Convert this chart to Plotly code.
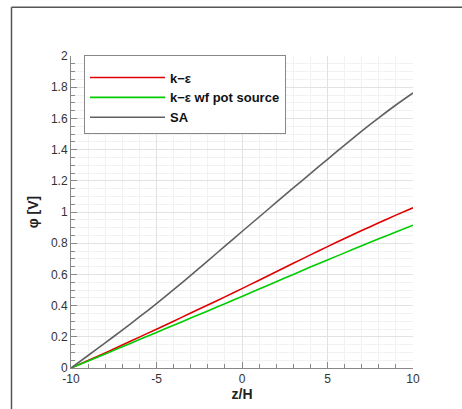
import plotly.graph_objects as go

z = [-10, -9, -8, -7, -6, -5, -4, -3, -2, -1, 0, 1, 2, 3, 4, 5, 6, 7, 8, 9, 10]
phi_ke = [0, 0.048, 0.097, 0.147, 0.198, 0.249, 0.3, 0.352, 0.404, 0.456, 0.509, 0.563, 0.617, 0.671, 0.725, 0.778, 0.83, 0.881, 0.931, 0.98, 1.027]
phi_ke_wf = [0, 0.045, 0.09, 0.136, 0.182, 0.228, 0.274, 0.32, 0.366, 0.412, 0.459, 0.506, 0.553, 0.6, 0.647, 0.693, 0.738, 0.783, 0.828, 0.872, 0.915]
phi_sa = [0, 0.08, 0.161, 0.243, 0.327, 0.413, 0.502, 0.594, 0.687, 0.781, 0.875, 0.968, 1.061, 1.154, 1.246, 1.338, 1.429, 1.518, 1.604, 1.686, 1.763]
names = ["k\u2212\u03b5", "k\u2212\u03b5 wf pot source", "SA"]
colors = ["#e00000", "#00cc00", "#606060"]
x_ticks = [-10, -5, 0, 5, 10]
x_labels = ["-10", "-5", "0", "5", "10"]
y_ticks = [0, 0.2, 0.4, 0.6, 0.8, 1, 1.2, 1.4, 1.6, 1.8, 2]
y_labels = ["0", "0.2", "0.4", "0.6", "0.8", "1", "1.2", "1.4", "1.6", "1.8", "2"]

fig = go.Figure()
for ys, n, c in zip([phi_ke, phi_ke_wf, phi_sa], names, colors):
    fig.add_trace(go.Scatter(x=z, y=ys, mode="lines", name="<b>" + n + "</b>",
                             line=dict(color=c, width=1.6, shape="spline", smoothing=0.6)))

font_fam = "Liberation Sans, Arial"
axis_common = dict(
    showline=True, linecolor="#888888", linewidth=1,
    ticks="inside", ticklen=6, tickcolor="#888888",
    gridcolor="#e2e2e2", gridwidth=1, zeroline=False, automargin=False,
    tickfont=dict(family=font_fam, size=12, color="#333333"),
)
fig.update_xaxes(range=[-10, 10], tickvals=x_ticks, ticktext=x_labels,
                 minor=dict(dtick=1, tick0=-10, ticks="inside", ticklen=4, tickcolor="#888888",
                            showgrid=True, gridcolor="#f2f2f2"),
                 title=dict(text="<b>z/H</b>", font=dict(family=font_fam, size=14, color="#222"), standoff=1),
                 **axis_common)
fig.update_yaxes(range=[0, 2], tickvals=y_ticks, ticktext=y_labels,
                 minor=dict(dtick=0.05, tick0=0, ticks="inside", ticklen=4, tickcolor="#888888",
                            showgrid=True, gridcolor="#f2f2f2"),
                 title=dict(text="<b>\u03c6 [V]</b>", font=dict(family=font_fam, size=14, color="#222"), standoff=9),
                 **axis_common)

fig.update_layout(
    width=462, height=409,
    margin=dict(l=71, r=49, t=56, b=41),
    paper_bgcolor="white", plot_bgcolor="white",
    showlegend=True,
    legend=dict(x=0.038, y=1.003, xanchor="left", yanchor="top",
                bgcolor="white", bordercolor="#888888", borderwidth=1,
                font=dict(family=font_fam, size=13, color="#111"),
                title=dict(text=" ", font=dict(size=5)),
                tracegroupgap=0, itemwidth=75, entrywidth=135),
    shapes=[
        dict(type="line", xref="paper", yref="paper", x0=-0.1740, x1=-0.1740, y0=-0.2, y1=1.156,
             line=dict(color="#555555", width=1.5)),
        dict(type="line", xref="paper", yref="paper", x0=-0.1740, x1=1.2, y0=1.156, y1=1.156,
             line=dict(color="#555555", width=1.5)),
    ],
)

fig.write_html("out.html", config={"displayModeBar": False},
               post_script="document.body.style.margin='0px';")
